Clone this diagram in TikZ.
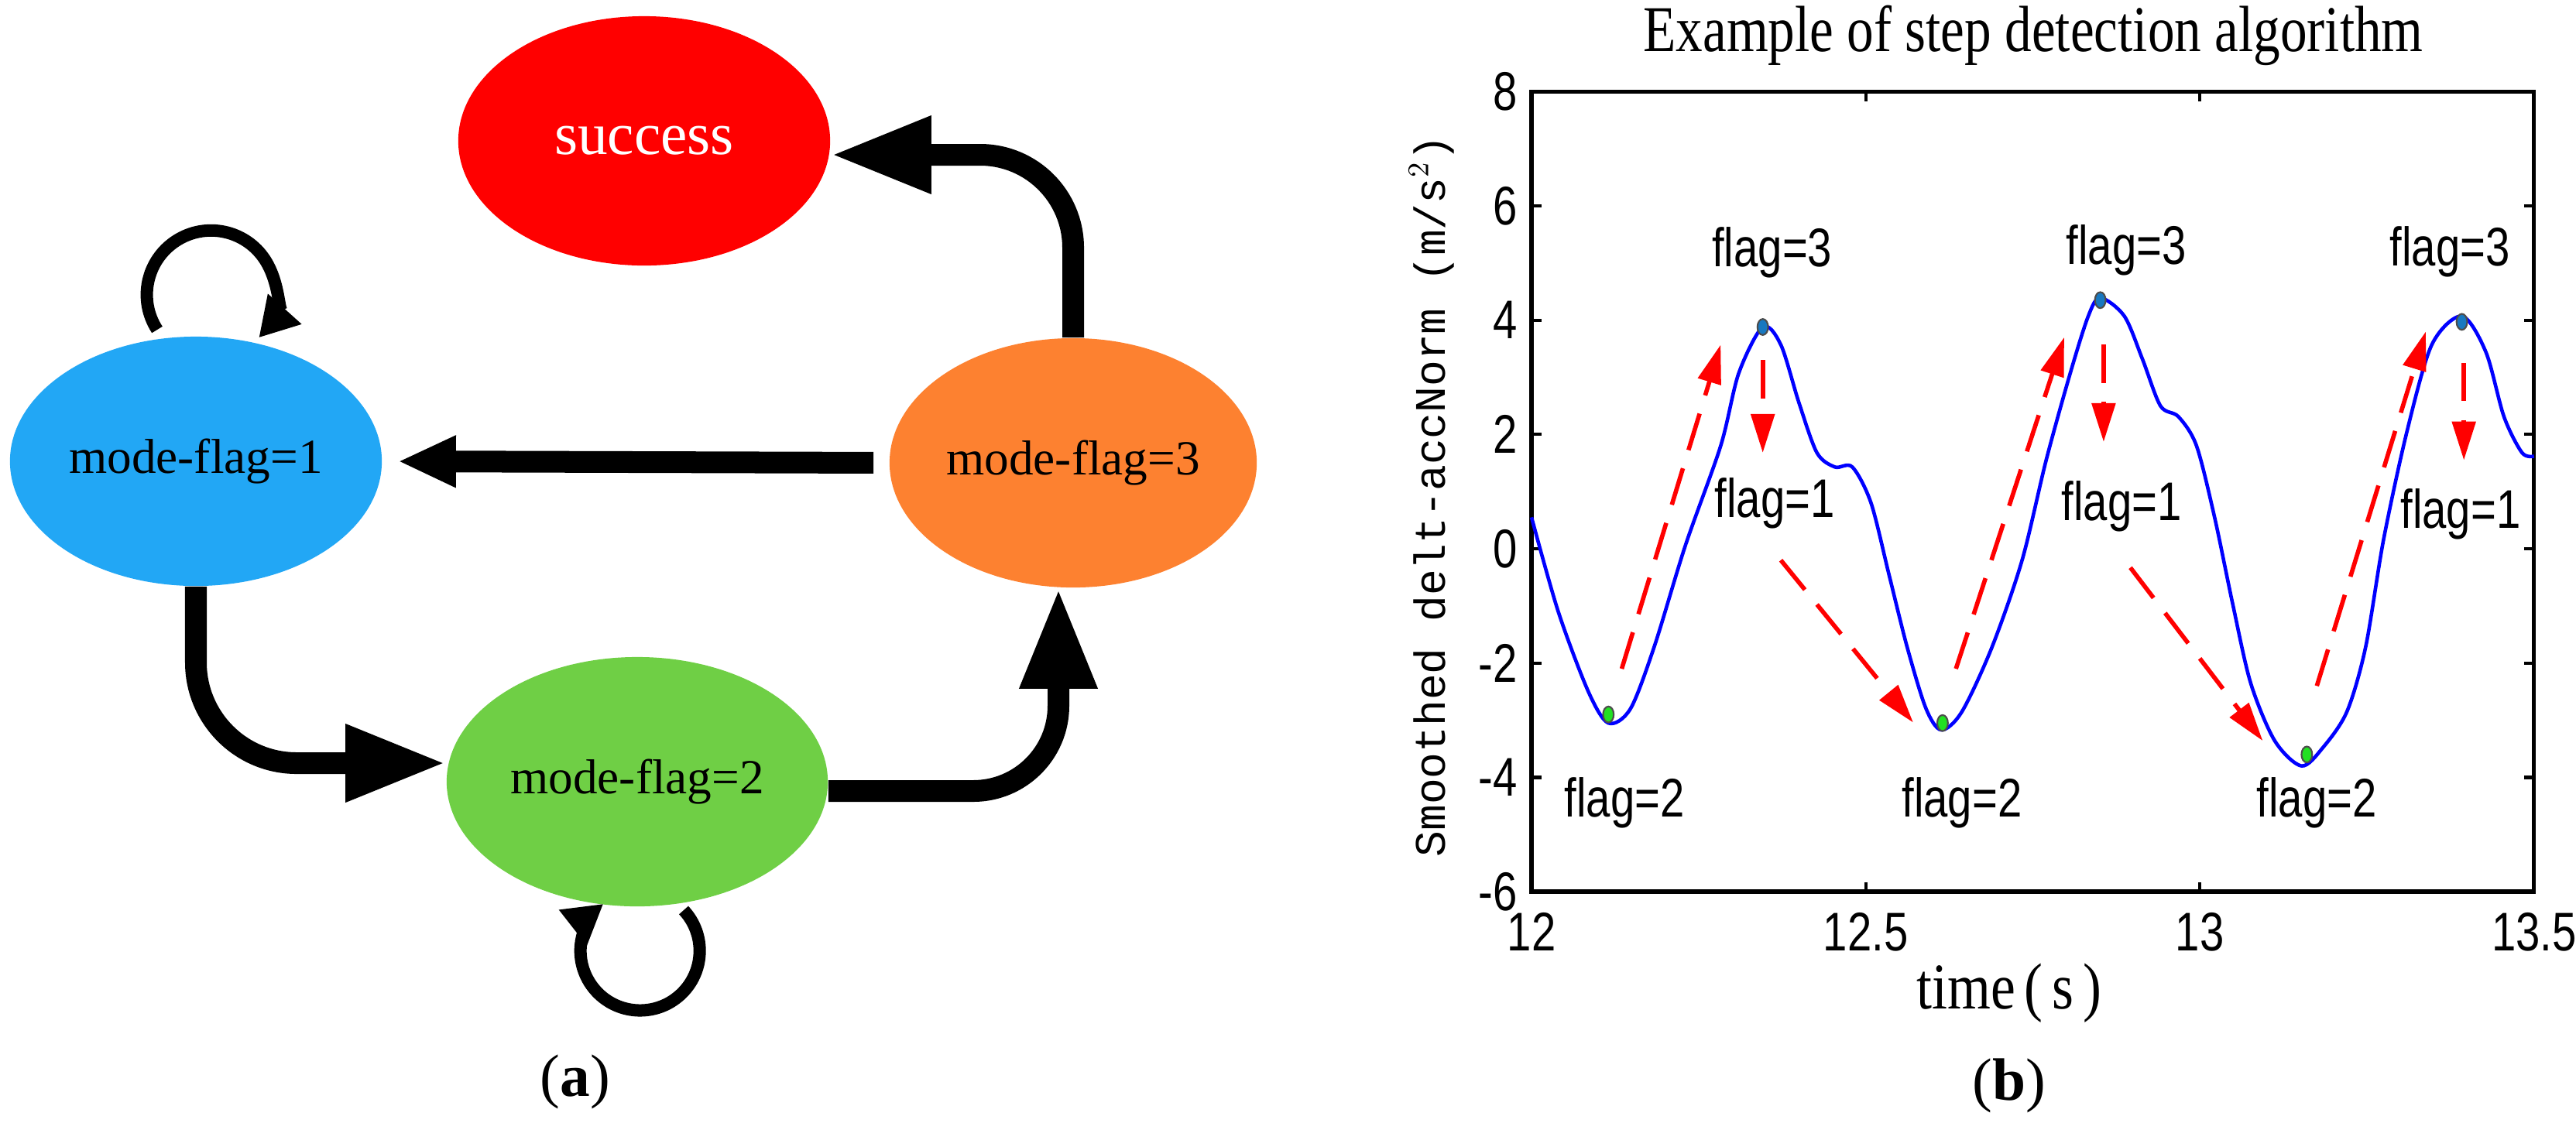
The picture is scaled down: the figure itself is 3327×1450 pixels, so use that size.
\documentclass[tikz,border=0pt]{standalone}
\usepackage{fontspec}
\setmainfont{Liberation Serif}
\newfontfamily\sansf{Liberation Sans}
\newfontfamily\monof{Liberation Mono}
\usetikzlibrary{arrows.meta,shapes.geometric,calc}
\definecolor{cblue}{HTML}{22A7F5}
\definecolor{corange}{HTML}{FD8130}
\definecolor{cgreen}{HTML}{6FCF45}
\definecolor{cred}{HTML}{FF0000}
\definecolor{mblue}{HTML}{1878C0}
\definecolor{mgreen}{HTML}{22E022}
\tikzset{
 st/.style={ellipse,minimum width=4.8cm,minimum height=3.22cm,inner sep=0pt,font=\fontsize{18}{20}\selectfont},
 big/.style={line width=0.28cm,-{Triangle[length=1.3cm,width=0.93cm]}},
 small/.style={line width=0.28cm,-{Triangle[length=0.75cm,width=0.62cm]}},
 loopa/.style={line width=0.16cm,-{Triangle[length=0.5cm,width=0.55cm]}},
 redar/.style={red,line width=1.6pt,dash pattern=on 14pt off 7pt,-{Triangle[length=0.5cm,width=0.3cm]}},
 lab/.style={font=\sansf\fontsize{20}{22}\selectfont,xscale=0.8},
 tick/.style={font=\sansf\fontsize{20}{22}\selectfont}
}
\begin{document}
\begin{tikzpicture}[x=0.01cm,y=-0.01cm]
\useasboundingbox[fill=white] (0,0) rectangle (3327,1450);
% --- state diagram ---
\node[st,fill=cred,text=white,font=\fontsize{22}{24}\selectfont] (s) at (832,182) {success};
\node[st,fill=cblue] (m1) at (253,596) {mode-flag=1};
\node[st,fill=cgreen,minimum width=4.92cm] (m2) at (823,1010) {mode-flag=2};
\node[st,fill=corange,minimum width=4.74cm] (m3) at (1386,598) {mode-flag=3};
\draw[small,shorten <=0.2cm,shorten >=0.2cm] (m3.west) -- (m1.east);
\draw[big,rounded corners=1.2cm] (m3.north) |- ($(s.east)+(0,18)$);
\draw[big,rounded corners=1.3cm] (m1.south) |- ($(m2.west)+(0,-24)$);
\draw[big,rounded corners=1.1cm] ($(m2.east)+(0,12)$) -| ($(m3.south)+(-19,0)$);
\coordinate (l1) at (203,426);
\coordinate (l2) at (883,1176);
\draw[loopa] (l1) arc[start angle=147,end angle=402,radius=83];
\draw[loopa] (l2) arc[start angle=-43,end angle=232,radius=77];
\node[font=\fontsize{22}{24}\selectfont] (la) at (743,1398) {(\textbf{a})};
% --- plot ---
\node[font=\fontsize{24}{26}\selectfont,xscale=0.82] (title) at (2626,46) {Example of step detection algorithm};
\node[font=\monof\fontsize{16}{18}\selectfont,rotate=90] (yl) at (1849,641) {Smoothed delt-accNorm (m/s$^2$)};
\node[font=\fontsize{24}{26}\selectfont,xscale=0.85] (xl) at (2595,1283) {time\,(\,s\,)};
\node[font=\fontsize{22}{24}\selectfont] (lb) at (2595,1403) {(\textbf{b})};
\begin{scope}[shift={(1978,709)},x=8.627cm,y=0.738cm,shift={(-12,0)}]
 \draw[line width=1.5pt] (12,-6) rectangle (13.5,8);
 \foreach \t in {12.5,13}{\draw[line width=1.2pt] (\t,-6)--++(0,0.17) (\t,8)--++(0,-0.17);}
 \foreach \v in {-4,-2,0,2,4,6}{\draw[line width=1.2pt] (12,\v)--++(0.015,0) (13.5,\v)--++(-0.015,0);}
 \foreach \v in {-6,-4,-2,0,2,4,6,8}{\node[tick,anchor=east,xscale=0.8] at (11.99,\v) {\v};}
 \foreach \t in {12,12.5,13,13.5}{\node[tick,anchor=north,xscale=0.8] at (\t,-6.2) {\t};}
 \draw[blue,line width=1.3pt] plot[smooth,tension=0.5] coordinates{
 (12,0.55)(12.04,-1.1)(12.085,-2.5)(12.115,-3.05)(12.148,-2.8)(12.184,-1.7)(12.23,0.05)(12.283,1.8)(12.31,3.07)(12.346,3.88)(12.373,3.57)(12.4,2.56)(12.427,1.68)(12.454,1.43)(12.48,1.43)(12.508,0.8)(12.535,-0.46)(12.562,-1.72)(12.59,-2.79)(12.613,-3.17)(12.644,-2.85)(12.689,-1.72)(12.734,-0.2)(12.77,1.55)(12.806,3.07)(12.833,4.07)(12.851,4.39)(12.887,4.07)(12.914,3.32)(12.941,2.5)(12.968,2.31)(12.995,1.8)(13.022,0.55)(13.049,-0.96)(13.076,-2.35)(13.112,-3.36)(13.152,-3.8)(13.184,-3.48)(13.22,-2.85)(13.248,-1.72)(13.275,0.17)(13.31,2.06)(13.347,3.57)(13.392,4.07)(13.428,3.44)(13.455,2.31)(13.482,1.68)(13.5,1.62)};
 \foreach \p in {(12.115,-2.9),(12.615,-3.05),(13.16,-3.6)}{\fill[mgreen,draw=black!70,line width=0.6pt] \p ellipse[x radius=0.008,y radius=0.14];}
 \foreach \p in {(12.346,3.88),(12.851,4.35),(13.392,3.97)}{\fill[mblue,draw=black!70,line width=0.6pt] \p ellipse[x radius=0.008,y radius=0.14];}
 \draw[redar] (12.135,-2.1)--(12.283,3.57);
 \draw[redar] (12.635,-2.1)--(12.797,3.7);
 \draw[redar] (13.175,-2.4)--(13.338,3.8);
 \draw[redar] (12.346,3.3)--(12.346,1.68);
 \draw[redar] (12.856,3.57)--(12.856,1.87);
 \draw[redar] (13.395,3.25)--(13.395,1.55);
 \draw[redar] (12.373,-0.2)--(12.571,-3.04);
 \draw[redar] (12.896,-0.33)--(13.094,-3.36);
 \node[lab] (f3a) at (12.36,5.18) {flag=3};
 \node[lab] (f3b) at (12.89,5.23) {flag=3};
 \node[lab] (f3c) at (13.374,5.2) {flag=3};
 \node[lab] (f1a) at (12.364,0.8) {flag=1};
 \node[lab] (f1b) at (12.883,0.74) {flag=1};
 \node[lab] (f1c) at (13.39,0.61) {flag=1};
 \node[lab] (f2a) at (12.139,-4.45) {flag=2};
 \node[lab] (f2b) at (12.644,-4.45) {flag=2};
 \node[lab] (f2c) at (13.175,-4.45) {flag=2};
\end{scope}
\end{tikzpicture}
\end{document}
